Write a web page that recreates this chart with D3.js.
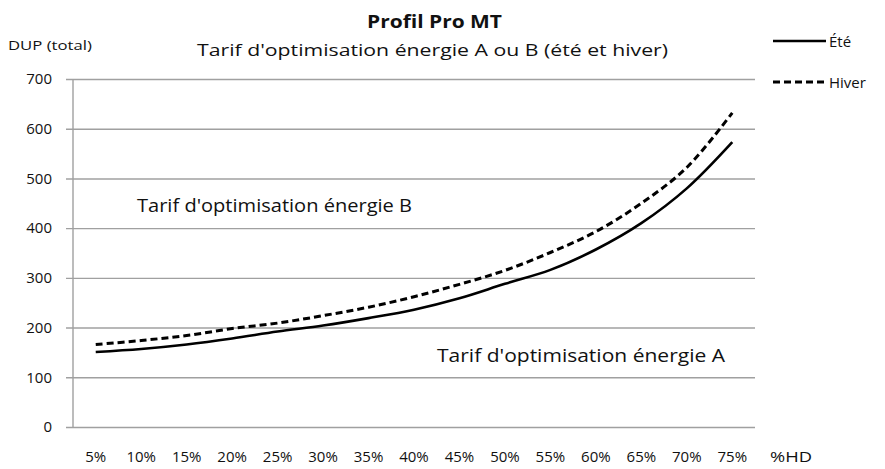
<!DOCTYPE html>
<html><head><meta charset="utf-8">
<script src="https://cdn.jsdelivr.net/npm/d3@7"></script>
<style>
html,body{margin:0;padding:0;background:#fff;}
svg{display:block;}
text{font-family:"Open Sans",Lato,sans-serif;fill:#111;}
</style></head>
<body>
<script>
const categories = ["5%","10%","15%","20%","25%","30%","35%","40%","45%","50%","55%","60%","65%","70%","75%"];
const ete   = [151,157,166,178,192,204,219,236,259,288,316,357,410,480,573];
const hiver = [166,174,184,198,209,224,241,262,287,315,351,393,450,522,632];
const yTicks = [0,100,200,300,400,500,600,700];
const seriesNames = ["Été","Hiver"];
const title = "Profil Pro MT";
const subtitle = "Tarif d'optimisation énergie A ou B (été et hiver)";
const yTitle = "DUP (total)";
const xTitle = "%HD";
const annotB = "Tarif d'optimisation énergie B";
const annotA = "Tarif d'optimisation énergie A";

const W = 885, H = 469;
const m = {left:73, right:130, top:79, bottom:42};
const svg = d3.select("body").append("svg").attr("width",W).attr("height",H);

const x = d3.scaleBand().domain(categories).range([m.left, W-m.right]);
const y = d3.scaleLinear().domain([0,700]).range([H-m.bottom, m.top]);

function fit(sel, w){
  sel.attr("textLength", w).attr("lengthAdjust","spacingAndGlyphs");
  return sel;
}

// gridlines + y axis
const yAxis = d3.axisLeft(y).tickValues(yTicks).tickSize(-(W-m.right-m.left)).tickSizeOuter(0).tickPadding(21);
const gy = svg.append("g").attr("transform",`translate(${m.left},0)`).call(yAxis);
gy.select(".domain").remove();
gy.selectAll(".tick line").attr("stroke","#a0a0a0").attr("stroke-width",1.4).attr("x1",-7);
gy.selectAll(".tick text").attr("font-size",15).attr("font-family","'Open Sans',sans-serif").attr("fill","#111");
svg.append("line").attr("x1",m.left).attr("x2",m.left).attr("y1",y(700)).attr("y2",y(0))
   .attr("stroke","#a0a0a0").attr("stroke-width",1.4);

// x axis labels
const xAxis = d3.axisBottom(x).tickSize(0).tickPadding(24);
const gx = svg.append("g").attr("transform",`translate(0,${y(0)})`).call(xAxis);
gx.select(".domain").remove();
gx.selectAll(".tick text").attr("font-size",15).attr("font-family","'Open Sans',sans-serif").attr("fill","#111");

// lines
const line = d3.line().x((d,i)=>x(categories[i])+x.bandwidth()/2).y(d=>y(d)).curve(d3.curveCatmullRom.alpha(0.5));
svg.append("path").datum(ete).attr("d",line).attr("fill","none").attr("stroke","#000").attr("stroke-width",2.6);
svg.append("path").datum(hiver).attr("d",line).attr("fill","none").attr("stroke","#000").attr("stroke-width",3).attr("stroke-dasharray","7,4");

// titles
fit(svg.append("text").attr("x",367).attr("y",28).attr("font-size",17).attr("font-weight","bold").text(title),135);
fit(svg.append("text").attr("x",197).attr("y",56).attr("font-size",17).attr("font-weight",500).text(subtitle),471);
fit(svg.append("text").attr("x",8).attr("y",50).attr("font-size",13).attr("font-weight",500).text(yTitle),84);
fit(svg.append("text").attr("x",770).attr("y",462).attr("font-size",15).attr("font-weight",500).text(xTitle),42);

// annotations
fit(svg.append("text").attr("x",137).attr("y",212).attr("font-size",18).attr("font-weight",500).text(annotB),275);
fit(svg.append("text").attr("x",437).attr("y",362).attr("font-size",18).attr("font-weight",500).text(annotA),288);

// legend
const lg = svg.append("g");
const legY = [41, 82];
seriesNames.forEach((n,i)=>{
  lg.append("line").attr("x1",773).attr("x2",826).attr("y1",legY[i]).attr("y2",legY[i])
    .attr("stroke","#000").attr("stroke-width",i?3:2.6).attr("stroke-dasharray",i?"7,4":null);
  lg.append("text").attr("x",829).attr("y",legY[i]+6).attr("font-size",15).text(n);
});
</script>
</body></html>
